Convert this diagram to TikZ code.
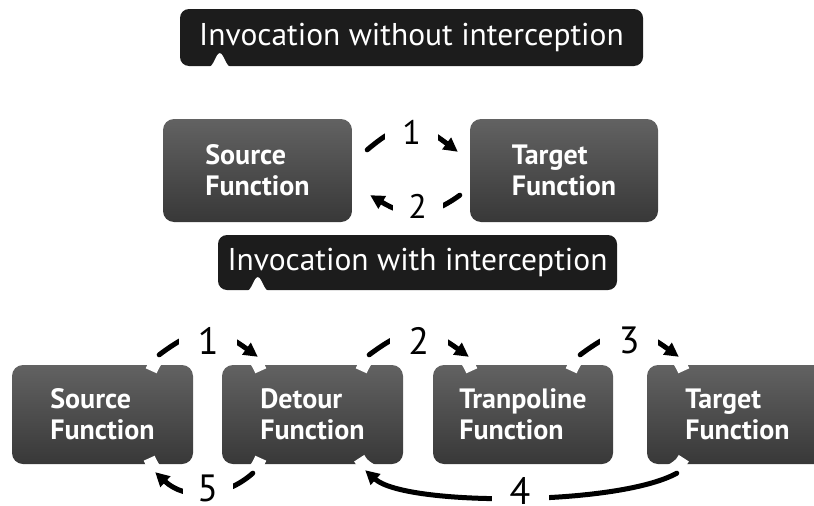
\documentclass[tikz,border=0pt]{standalone}
\usepackage{fontspec}
\setmainfont{PT Sans}
\usetikzlibrary{arrows.meta,calc}
\definecolor{boxtop}{RGB}{98,98,98}
\definecolor{boxbot}{RGB}{56,56,56}
\definecolor{calloutfill}{RGB}{28,28,28}

\begin{document}
\begin{tikzpicture}[x=1pt,y=-1pt,
  fnbox/.style={rounded corners=11pt, top color=boxtop, bottom color=boxbot,
    draw=none, text=white, align=left, inner sep=0pt,
    font=\bfseries\fontsize{28}{31}\selectfont},
  callout/.style={fill=calloutfill, rounded corners=9pt, text=white,
    inner sep=0pt, font=\fontsize{31.5}{36}\selectfont},
  arr/.style={line width=5pt, line cap=round, -{Triangle[length=14pt,width=14pt]}},
  halo/.style={white, line width=12pt},
  num/.style={fill=white, inner sep=0pt, minimum height=20pt,
    font=\fontsize{38}{38}\selectfont},
  numsmall/.style={num, font=\fontsize{34}{34}\selectfont}
]
\path[use as bounding box] (0,0) rectangle (814,506);
\clip (0,0) rectangle (814,506);

% ---- call without a detour ----
\node[callout, minimum width=463pt, minimum height=57pt] (c1) at (411.5,37.5)
  {Invocation without interception};
\begin{scope}[shift={(c1.south west)}]
  \fill[white] (28,1.5) .. controls (34,1) and (36,-13) .. (40,-13)
    .. controls (44,-13) and (46,1) .. (52,1.5) -- cycle;
\end{scope}

\node[fnbox, minimum width=189pt, minimum height=103pt] (ts) at (257.5,170.5)
  {Source\\Function};
\node[fnbox, minimum width=188pt, minimum height=103pt] (tt) at (564,170.5)
  {Target\\Function};

\draw[arr] ([shift={(15,31)}]ts.north east)
  .. controls +(38,-32) and +(-40,-30) .. ([shift={(-12,33)}]tt.north west)
  node[numsmall, pos=.5, yshift=-4.5pt, minimum width=53pt] {1};
\draw[arr] ([shift={(-10,-27)}]tt.south west)
  .. controls +(-33,24) and +(35,21) .. ([shift={(18,-27)}]ts.south east)
  node[numsmall, pos=.5, xshift=2pt, yshift=6pt, minimum width=50pt] {2};

% ---- call through detour and trampoline ----
\node[callout, minimum width=399pt, minimum height=55pt] (c2) at (417.5,262.5)
  {Invocation with interception};
\begin{scope}[shift={(c2.south west)}]
  \fill[white] (28,1.5) .. controls (34,1) and (36,-13) .. (40,-13)
    .. controls (44,-13) and (46,1) .. (52,1.5) -- cycle;
\end{scope}

\node[fnbox, minimum width=181pt, minimum height=99pt] (bs) at (102.5,414.5)
  {Source\\Function};
\node[fnbox, minimum width=181pt, minimum height=99pt] (bd) at (312.5,414.5)
  {Detour\\Function};
\node[fnbox, minimum width=180pt, minimum height=99pt] (bt) at (523,414.5)
  {Tranpoline\\Function};
\node[fnbox, minimum width=181pt, minimum height=99pt] (bg) at (737.5,414.5)
  {Target\\Function};

% white outlines of the connectors bite into the box corners
\draw[halo] ([shift={(-42,6)}]bs.north east)
  .. controls +(18,-45) and +(-18,-45) .. ([shift={(39,6)}]bd.north west);
\draw[halo] ([shift={(-42,6)}]bd.north east)
  .. controls +(18,-45) and +(-18,-45) .. ([shift={(39,6)}]bt.north west);
\draw[halo] ([shift={(-42,6)}]bt.north east)
  .. controls +(18,-45) and +(-18,-45) .. ([shift={(37,6)}]bg.north west);
\draw[halo] ([shift={(39,-6)}]bd.south west)
  .. controls +(-18,45) and +(18,45) .. ([shift={(-44,-6)}]bs.south east);
\draw[halo] ([shift={(37,-6)}]bg.south west)
  .. controls +(-20,45) and +(20,45) .. ([shift={(-44,-6)}]bd.south east);

\draw[arr] ([shift={(-34,-10)}]bs.north east)
  .. controls +(41.6,-31.2) and +(-42.1,-30.2) .. ([shift={(36,-8)}]bd.north west)
  node[num, pos=.5, yshift=-8pt, minimum width=58pt] {1};
\draw[arr] ([shift={(-34,-10)}]bd.north east)
  .. controls +(41.6,-31.2) and +(-42.1,-30.2) .. ([shift={(36,-8)}]bt.north west)
  node[num, pos=.5, yshift=-8pt, minimum width=58pt] {2};
\draw[arr] ([shift={(-33,-10)}]bt.north east)
  .. controls +(41.6,-31.2) and +(-42.1,-30.2) .. ([shift={(32,-8)}]bg.north west)
  node[num, pos=.5, yshift=-8pt, minimum width=58pt] {3};
\draw[arr] ([shift={(30,9)}]bg.south west)
  .. controls +(-60,33) and +(40,36) .. ([shift={(-38,6)}]bd.south east)
  node[num, pos=.5, xshift=6.5pt, yshift=6.5pt, minimum width=57pt] {4};
\draw[arr] ([shift={(31,9)}]bd.south west)
  .. controls +(-28,25) and +(30,28) .. ([shift={(-38,8)}]bs.south east)
  node[num, pos=.5, xshift=3pt, yshift=4pt, minimum width=50pt] {5};
\end{tikzpicture}
\end{document}
